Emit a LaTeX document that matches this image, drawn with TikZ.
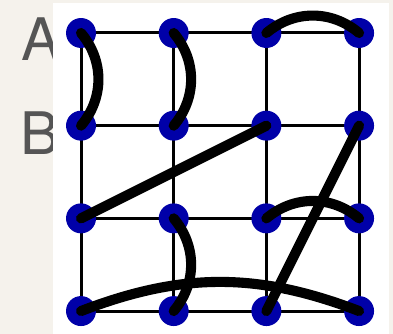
\documentclass[tikz,border=0pt]{standalone}
\usepackage{fontspec}
\setsansfont{TeX Gyre Heros}
\usetikzlibrary{positioning}
\definecolor{paper}{HTML}{F5F2EC}
\definecolor{dotblue}{HTML}{0000A8}
\definecolor{lettergray}{HTML}{555555}

\begin{document}
\begin{tikzpicture}
\tikzset{
    every node/.style={inner sep=0pt},
    dot/.style={circle, fill=dotblue, minimum size=9.2pt},
    gridline/.style={line width=0.92pt},
    strand/.style={line width=3.1pt, line cap=round},
    letter/.style={text=lettergray, font=\sffamily\fontsize{18}{18}\selectfont}
}
\useasboundingbox (-0.874,0.356) rectangle (3.366,-3.247);
\fill[paper] (-0.874,0.356) rectangle (3.366,-3.247);
\node[letter] (labA) at (-0.43,-0.065) {A};
\node[letter] (labB) at (-0.44,-1.079) {B};
\fill[white] (-0.302,0.324) rectangle (3.323,-3.247);

% grid points
\foreach \i in {1,...,4}
  \foreach \j in {1,...,4}
    \coordinate (p\i\j) at (\i-1,1-\j);
\foreach \k in {1,...,4} {
  \draw[gridline] (p\k1) -- (p\k4);
  \draw[gridline] (p1\k) -- (p4\k);
}
\foreach \i in {1,...,4}
  \foreach \j in {1,...,4}
    \node[dot] (v\i\j) at (p\i\j) {};

% strands
\draw[strand] (p11) to[bend left=40] (p12);
\draw[strand] (p21) to[bend left=40] (p22);
\draw[strand] (p31) to[bend left=40] (p41);
\draw[strand] (p13) -- (p32);
\draw[strand] (p42) -- (p34);
\draw[strand] (p33) to[bend left=40] (p43);
\draw[strand] (p23) to[bend left=40] (p24);
\draw[strand] (p14) to[bend left=21] (p44);
\end{tikzpicture}
\end{document}
